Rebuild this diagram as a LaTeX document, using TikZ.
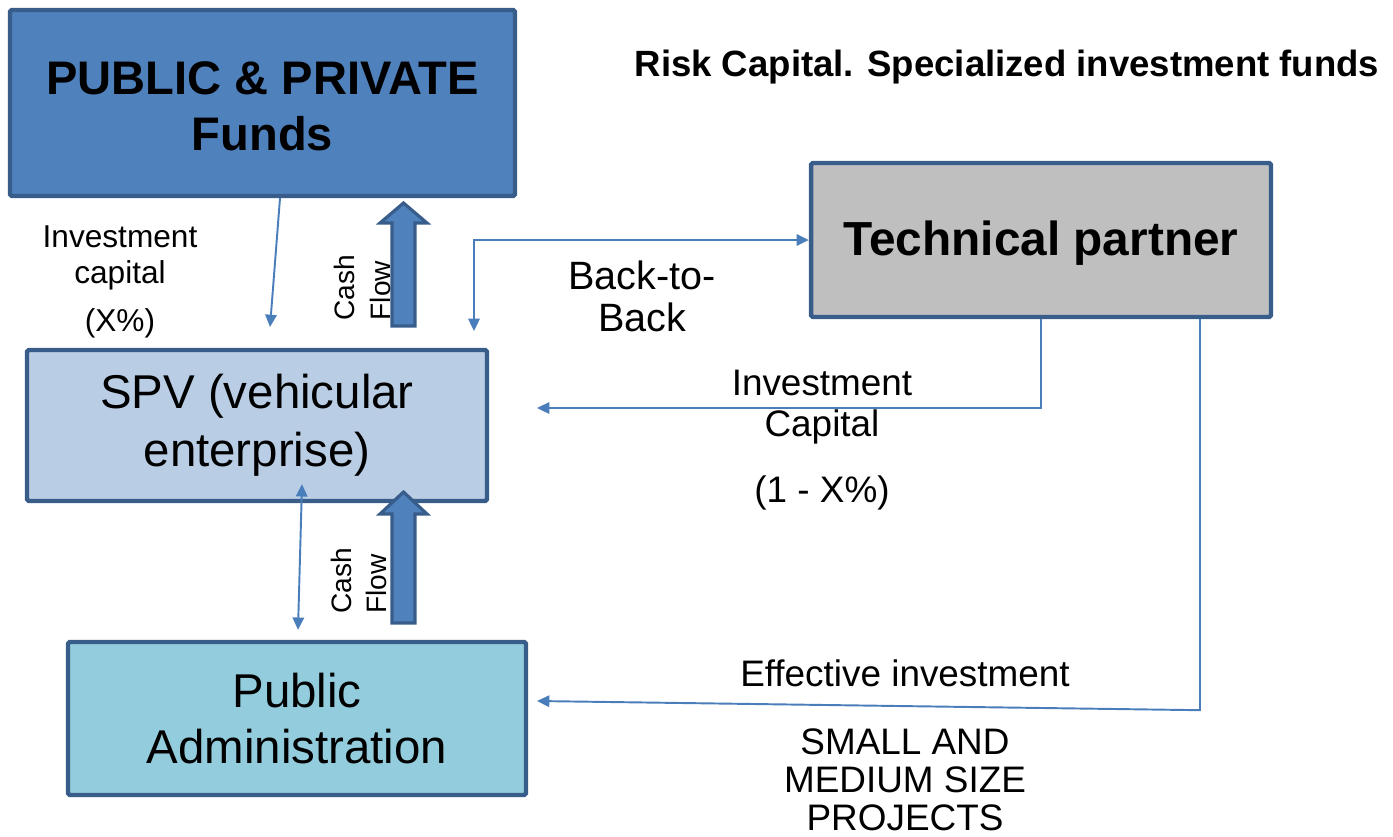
\documentclass[tikz,border=0pt]{standalone}
\usepackage{fontspec}
\setmainfont{Liberation Sans}
\usetikzlibrary{arrows.meta,calc}
\definecolor{fundsblue}{HTML}{4F81BD}
\definecolor{edgeblue}{HTML}{385D8A}
\definecolor{spvblue}{HTML}{B9CDE5}
\definecolor{pacyan}{HTML}{93CDDD}
\definecolor{tpgray}{HTML}{BFBFBF}
\definecolor{linkblue}{HTML}{4A7EBB}
\newcommand\fsz[2]{\fontsize{#1}{#2}\selectfont}
\begin{document}
\begin{tikzpicture}[x=0.02cm,y=-0.02cm,
  box/.style={draw=edgeblue,line width=2.5pt,rounded corners=1pt,inner sep=0pt,align=center},
  link/.style={draw=linkblue,line width=1.1pt,-{Triangle[length=7pt,width=6.5pt]}},
  twoway/.style={draw=linkblue,line width=1.1pt,{Triangle[length=7pt,width=6.5pt]}-{Triangle[length=7pt,width=6.5pt]}},
  blockarrow/.style={fill=fundsblue,draw=edgeblue,line width=1.8pt,line join=miter},
  lbl/.style={align=center,inner sep=0pt}]
\useasboundingbox (0,0) rectangle (1393,836);

% boxes
\node[box,fill=fundsblue,minimum width=10.1cm,minimum height=3.72cm] (funds) at (262.5,103) {};
\node[lbl,font=\bfseries\fsz{26.8}{32}] (fundstext) at (262.5,106) {PUBLIC \& PRIVATE\\Funds};
\node[box,fill=tpgray,minimum width=9.2cm,minimum height=3.08cm] (tp) at (1041,240) {};
\node[lbl,font=\bfseries\fsz{27.2}{32}] (tptext) at (1041,243) {Technical partner};
\node[box,fill=spvblue,minimum width=9.2cm,minimum height=3.02cm,font=\fsz{27}{33}] (spv) at (257,425.5) {SPV (vehicular\\enterprise)};
\node[box,fill=pacyan,minimum width=9.16cm,minimum height=3.06cm,font=\fsz{27}{32}] (pa) at (297,718.5) {Public\\Administration};

% title
\node[lbl,font=\bfseries\fsz{20.8}{24}] (title) at (1007,67) {Risk Capital. Specialized investment funds};

% block arrows (cash flow)
\draw[blockarrow] (392,326) -- (392,223) -- (380,223) -- (403.5,203) -- (427,223) -- (415,223) -- (415,326) -- cycle;
\draw[blockarrow] (392,623) -- (392,514) -- (380,514) -- (403.5,492) -- (427,514) -- (415,514) -- (415,623) -- cycle;

% free ends
\coordinate (icEnd) at (270,327);
\coordinate (bbEnd) at (474,331);
\coordinate (icapEnd) at (537,408);
\coordinate (effEnd) at (537,701);

% connectors
\draw[link] ($(funds.south)+(17.5,0)$) -- (icEnd);
\draw[twoway] (bbEnd) |- (tp.west);
\draw[link] (tp.south) |- (icapEnd);
\draw[link] ($(tp.south)+(159,0)$) -- ++(0,391) -- (effEnd);
\draw[twoway] ($(spv.south)+(45,-19)$) -- ($(pa.north)+(1,-10)$);

% labels
\node[lbl,font=\fsz{18}{20.4}] (iclbl) at (120,282) {Investment\\capital\\[7pt](X\%)};
\node[lbl,align=left,rotate=90,font=\fsz{16}{20}] (cf1) at (362.5,287.5) {Cash\\Flow};
\node[lbl,align=left,rotate=90,font=\fsz{16}{20}] (cf2) at (359,581) {Cash\\Flow};
\node[lbl,font=\fsz{22.5}{24}] (bb) at (642,296) {Back-to-\\Back};
\node[lbl,font=\fsz{21}{23}] (icap) at (822,407) {Investment\\Capital};
\node[lbl,font=\fsz{21}{23}] (xpct) at (822,493) {(1 - X\%)};
\node[lbl,font=\fsz{21}{23}] (eff) at (905,673) {Effective investment};
\node[lbl,font=\fsz{21}{21.5}] (sme) at (905,780) {SMALL AND\\MEDIUM SIZE\\PROJECTS};
\end{tikzpicture}
\end{document}
